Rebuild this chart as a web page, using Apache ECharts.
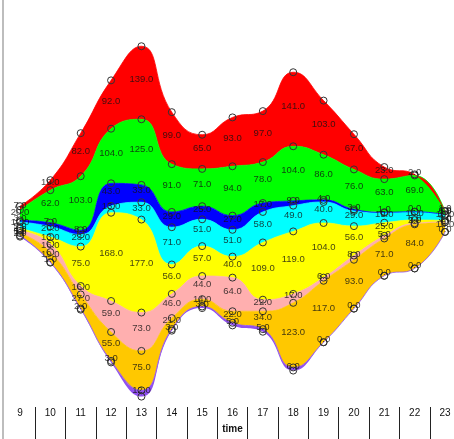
<!DOCTYPE html>
<html>
<head>
<meta charset="utf-8">
<script src="https://cdn.jsdelivr.net/npm/echarts@6/dist/echarts.min.js"></script>
<style>
html,body{margin:0;padding:0;background:#fff;}
#c{width:454px;height:439px;}
</style>
</head>
<body>
<div id="c"></div>
<script>
// ---- data ----
const hours  = [9, 10, 11, 12, 13, 14, 15, 16, 17, 18, 19, 20, 21, 22, 23];
const red    = [7, 19, 82, 92, 139, 99, 65, 93, 97, 141, 103, 67, 23, 2, 1];
const green  = [20, 62, 103, 104, 125, 91, 71, 94, 78, 104, 86, 76, 63, 69, 6];
const blue   = [3, 7, 8, 43, 33, 29, 25, 27, 17, 9, 4, 3, 1, 0, 1];
const cyan   = [12, 20, 23, 13, 33, 71, 51, 51, 58, 49, 40, 29, 19, 16, 10];
const yellow = [5, 13, 75, 168, 177, 56, 57, 40, 109, 119, 104, 56, 25, 6, 3];
const pink   = [4, 16, 16, 59, 73, 46, 44, 64, 22, 17, 6, 8, 5, 2, 1];
const orange = [5, 19, 27, 55, 75, 21, 14, 22, 34, 123, 117, 93, 71, 84, 18];
const purple = [2, 1, 2, 3, 12, 3, 3, 5, 5, 6, 0, 0, 0, 0, 0];

// stacking order, bottom to top
const layerValues = [purple, orange, pink, yellow, cyan, blue, green, red];
const layerColors = ['#9050f0', '#ffc800', '#ffafaf', '#ffff00', '#00ffff', '#0000ff', '#00ff00', '#ff0000'];

const n = hours.length;
const totals = hours.map((_, i) => layerValues.reduce((s, arr) => s + arr[i], 0));
const maxTotal = Math.max(...totals);
const base = totals.map(t => (maxTotal - t) / 2);   // silhouette baseline

const FONT = 'Liberation Sans, Arial, sans-serif';
const symbolStyle = { color: 'rgba(0,0,0,0)', borderColor: '#333', borderWidth: 1 };

const series = [];
series.push({
  type: 'line', stack: 's', data: base, smooth: true,
  symbol: 'circle', symbolSize: 7, showAllSymbol: true,
  itemStyle: symbolStyle,
  lineStyle: { width: 0 },
  silent: true, z: 2
});
layerValues.forEach((vals, li) => {
  series.push({
    type: 'line', stack: 's', data: vals, smooth: true,
    symbol: 'circle', symbolSize: 7, showAllSymbol: true,
    itemStyle: symbolStyle,
    lineStyle: { width: 0.8, color: layerColors[li] },
    areaStyle: { color: layerColors[li], opacity: 1 },
    silent: true, z: 2
  });
});
// value labels at the middle of each layer
const cum = base.slice();
layerValues.forEach((vals) => {
  const mids = vals.map((v, i) => cum[i] + v / 2);
  vals.forEach((v, i) => { cum[i] += v; });
  series.push({
    type: 'scatter', data: mids, symbol: 'circle', symbolSize: 1,
    itemStyle: { color: 'rgba(0,0,0,0)' },
    label: {
      show: true, position: 'inside', offset: [0, -3],
      formatter: p => vals[p.dataIndex].toFixed(1),
      color: '#111', fontSize: 9.5, fontFamily: FONT
    },
    silent: true, z: 5
  });
});

const chart = echarts.init(document.getElementById('c'), null, { renderer: 'canvas' });
chart.setOption({
  animation: false,
  backgroundColor: '#fff',
  grid: [
    { left: 20, right: 9, top: 0, bottom: 34 },
    { left: 35.18, right: 24.18, top: 406, height: 1 }
  ],
  xAxis: [
    {
      gridIndex: 0, type: 'category', data: hours, boundaryGap: false,
      axisLine: { show: false }, axisTick: { show: false },
      axisLabel: { color: '#111', fontSize: 10, fontFamily: FONT, margin: 3, interval: 0 },
      name: 'time', nameLocation: 'middle', nameGap: 19,
      nameTextStyle: { color: '#111', fontSize: 10, fontWeight: 'bold', fontFamily: FONT }
    },
    {
      gridIndex: 1, type: 'category', data: hours.slice(1, -1), boundaryGap: true,
      axisLine: { show: false },
      axisTick: { show: true, length: 33, lineStyle: { color: '#222', width: 1 } },
      axisLabel: { show: false }
    }
  ],
  yAxis: [
    { gridIndex: 0, type: 'value', min: -16, max: 755, show: false },
    { gridIndex: 1, type: 'value', show: false }
  ],
  graphic: [
    { type: 'line', shape: { x1: 3, y1: 0, x2: 3, y2: 439 }, style: { stroke: '#bdbdbd', lineWidth: 2 }, silent: true }
  ],
  series: series
});
</script>
</body>
</html>
